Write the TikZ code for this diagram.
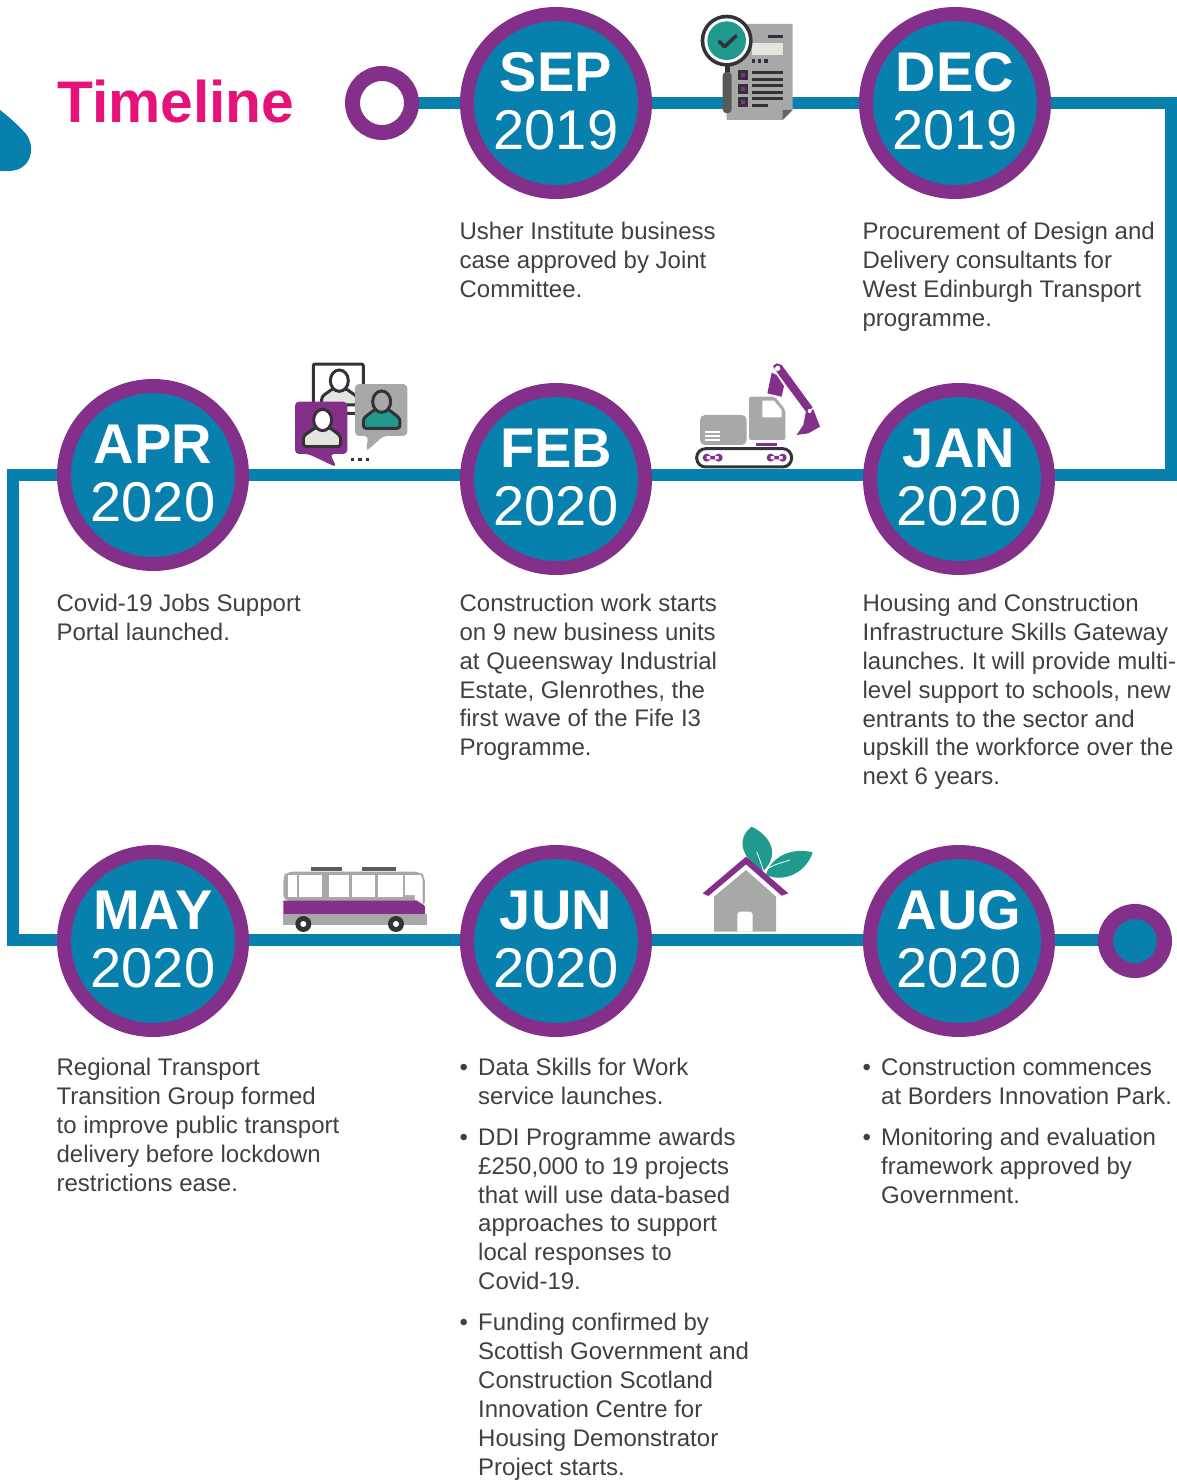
\documentclass[tikz,border=0pt]{standalone}
\usepackage{fontspec}
\setmainfont{Liberation Sans}
\frenchspacing
\usetikzlibrary{backgrounds}
\definecolor{tblue}{HTML}{0780AE}
\definecolor{tpurple}{HTML}{84308A}
\definecolor{tpink}{HTML}{E5127A}
\definecolor{tteal}{HTML}{1F9A8C}
\definecolor{tgray}{HTML}{A9A8A8}
\definecolor{tdark}{HTML}{333236}
\definecolor{tlight}{HTML}{E6E4DF}
\definecolor{ttext}{HTML}{404040}
\tikzset{
  x=1pt,y=-1pt,
  tl/.style={draw=tblue,line width=12.5pt,line join=miter},
  month/.style={circle,draw=tpurple,line width=14pt,fill=tblue,minimum size=178pt,inner sep=0pt,outer sep=0pt,text=white,align=center,font=\fontsize{56}{57.5}\selectfont},
  body/.style={anchor=north west,inner sep=0pt,outer sep=0pt,align=left,text=ttext,font=\fontsize{24}{28.9}\selectfont},
}
\newcommand{\mon}[2]{{\bfseries #1}\\[0pt]#2\rule[-4pt]{0pt}{4pt}}
\newcommand{\bul}{\makebox[18.6pt][l]{•}}
\newcommand{\ind}{\hspace*{18.6pt}}
\begin{document}
\begin{tikzpicture}
\useasboundingbox (0,0) rectangle (1176,1483);

% months
\node[month] (sep) at (556,103) {\mon{SEP}{2019}};
\node[month] (dec) at (955,103) {\mon{DEC}{2019}};
\node[month] (apr) at (153,475) {\mon{APR}{2020}};
\node[month] (feb) at (556,479) {\mon{FEB}{2020}};
\node[month] (jan) at (959,479) {\mon{JAN}{2020}};
\node[month] (may) at (153,941) {\mon{MAY}{2020}};
\node[month] (jun) at (556,941) {\mon{JUN}{2020}};
\node[month] (aug) at (959,941) {\mon{AUG}{2020}};
% end rings
\node[circle,draw=tpurple,line width=15pt,fill=white,minimum size=59pt,inner sep=0pt,outer sep=0pt] (start) at (382,103) {};
\node[circle,draw=tpurple,line width=15pt,fill=tblue,minimum size=59pt,inner sep=0pt,outer sep=0pt] (finish) at (1135,941) {};
% corner points
\coordinate (cA) at (1171,103);
\coordinate (cB) at (1171,475);
\coordinate (cC) at (13,475);
\coordinate (cD) at (13,940);

\begin{scope}[on background layer]
  \fill[white] (0,0) rectangle (1176,1483);
  \draw[tl] (start) -- (sep);
  \draw[tl] (sep) -- (dec);
  \draw[tl] (dec) -- (cA) -- (cB) -- (jan.east |- cB);
  \draw[tl] (jan.west |- cB) -- (feb.east |- cB);
  \draw[tl] (feb.west |- cB) -- (apr.east |- cB);
  \draw[tl] (apr.west |- cC) -- (cC) -- (cD) -- (may.west |- cD);
  \draw[tl] (may.east |- cD) -- (jun.west |- cD);
  \draw[tl] (jun.east |- cD) -- (aug.west |- cD);
  \draw[tl] (aug.east |- cD) -- (finish.west |- cD);
\end{scope}

% title
\node[anchor=base west,inner sep=0pt,text=tpink,font=\fontsize{58.7}{60}\selectfont\bfseries] (title) at (57,122) {Timeline};
% drop
\fill[tblue] (0,110) .. controls (8,116) and (18,125) .. (26,134) .. controls (36,147) and (32,171) .. (8,171) -- (0,171) -- cycle;

% texts
\node[body] (tsep) at (459.6,222) {Usher Institute business\\case approved by Joint\\Committee.};
\node[body] (tdec) at (862.6,222) {Procurement of Design and\\Delivery consultants for\\West Edinburgh Transport\\programme.};
\node[body] (tapr) at (56.6,594) {Covid-19 Jobs Support\\Portal launched.};
\node[body] (tfeb) at (459.6,594) {Construction work starts\\on 9 new business units\\at Queensway Industrial\\Estate, Glenrothes, the\\first wave of the Fife I3\\Programme.};
\node[body] (tjan) at (862.6,594) {Housing and Construction\\Infrastructure Skills Gateway\\launches. It will provide multi-\\level support to schools, new\\entrants to the sector and\\upskill the workforce over the\\next 6 years.};
\node[body] (tmay) at (56.6,1058) {Regional Transport\\Transition Group formed\\to improve public transport\\delivery before lockdown\\restrictions ease.};
\node[body] (tjun) at (459.6,1058) {\bul Data Skills for Work\\\ind service launches.\\[12pt]\bul DDI Programme awards\\\ind £250,000 to 19 projects\\\ind that will use data-based\\\ind approaches to support\\\ind local responses to\\\ind Covid-19.\\[12pt]\bul Funding confirmed by\\\ind Scottish Government and\\\ind Construction Scotland\\\ind Innovation Centre for\\\ind Housing Demonstrator\\\ind Project starts.};
\node[body] (taug) at (862.6,1058) {\bul Construction commences\\\ind at Borders Innovation Park.\\[12pt]\bul Monitoring and evaluation\\\ind framework approved by\\\ind Government.};

% document + magnifier icon
\begin{scope}[shift={(680,0)},x=0.3333pt,y=-0.3333pt]
  \fill[tgray] (140,72) -- (338,72) -- (338,330) -- (308,360) -- (140,360) -- cycle;
  \fill[black!60] (338,330) -- (308,330) -- (308,360) -- cycle;
  \fill[tlight] (215,128) rectangle (308,165);
  \fill[tdark] (263,104) rectangle (308,113);
  \foreach \xx in {220,238,258} \fill[tdark] (\xx-5,178) rectangle (\xx+5,188);
  \foreach \yy in {217,238,256,277,296} \fill[tdark] (215,\yy-5) rectangle (308,\yy+5);
  \fill[tdark] (215,311) rectangle (265,320);
  \foreach \yy in {226,267,307} {
    \fill[tdark] (175,\yy-15) rectangle (205,\yy+15);
    \fill[tpurple] (184,\yy-6) rectangle (196,\yy+6);
  }
  \fill[black!65,rounded corners=4pt] (128,215) -- (155,215) -- (155,340) -- (128,340) -- cycle;
  \fill[tdark] (134,195) rectangle (149,216);
  \fill[tdark] (140,122) circle [radius=78];
  \fill[white] (140,122) circle [radius=67];
  \fill[tteal] (140,122) circle [radius=58];
  \draw[tdark,line width=3.6pt,line cap=round,line join=round] (118,125) -- (134,140) -- (168,108);
\end{scope}

% people icon
\begin{scope}[shift={(280,350)},x=0.3333pt,y=-0.3333pt]
  \draw[tdark,line width=3pt,fill=white,rounded corners=2pt] (100,42) rectangle (250,190);
  \filldraw[draw=tdark,fill=tlight,line width=3pt,rounded corners=3pt] (160,115) -- (125,140) -- (125,165) -- (232,165) -- (232,140) -- (196,115) -- cycle;
  \filldraw[draw=tdark,fill=white,line width=3pt] (178,92) ellipse [x radius=27,y radius=32];
  \fill[tgray,rounded corners=4pt] (225,102) -- (382,102) -- (382,258) -- (310,258) -- (258,305) -- (265,258) -- (225,258) -- cycle;
  \filldraw[draw=tdark,fill=tteal,line width=3pt,rounded corners=3pt] (285,178) -- (250,205) -- (250,235) -- (360,235) -- (360,205) -- (325,178) -- cycle;
  \filldraw[draw=tdark,fill=tgray,line width=3pt] (305,155) ellipse [x radius=27,y radius=32];
  \fill[tpurple,rounded corners=4pt] (45,155) -- (202,155) -- (202,312) -- (150,312) -- (170,352) -- (85,312) -- (45,312) -- cycle;
  \filldraw[draw=tdark,fill=tlight,line width=3pt,rounded corners=3pt] (108,232) -- (70,258) -- (70,290) -- (182,290) -- (182,258) -- (148,232) -- cycle;
  \filldraw[draw=tdark,fill=white,line width=3pt] (128,210) ellipse [x radius=27,y radius=32];
  \foreach \xx in {218,240,262} \fill[tdark] (\xx-5,323) rectangle (\xx+5,333);
\end{scope}

% digger icon
\begin{scope}[shift={(680,350)},x=0.3333pt,y=-0.3333pt]
  \fill[tpurple] (279,48) -- (290,40) -- (305,45) -- (398,172) -- (380,188) -- (300,80) -- cycle;
  \fill[tpurple] (275,68) -- (262,130) -- (305,140) -- (312,108) -- (290,75) -- cycle;
  \fill[tpurple] (378,185) -- (400,178) -- (420,230) -- (385,250) -- (350,255) -- (370,225) -- cycle;
  \fill[white] (293,55) circle [radius=8];
  \fill[white] (389,183) circle [radius=6];
  \fill[tgray,rounded corners=5pt] (60,195) rectangle (200,285);
  \foreach \yy in {245,258,270} \fill[white] (75,\yy-3) rectangle (120,\yy+3);
  \fill[tgray,rounded corners=2pt] (207,140) -- (285,140) -- (316,180) -- (316,270) -- (207,270) -- cycle;
  \fill[white] (247,152) -- (282,152) -- (305,180) -- (305,202) -- (247,202) -- cycle;
  \fill[tpurple] (228,279) rectangle (292,288);
  \draw[tdark,line width=3pt,rounded corners=9pt] (50,296) rectangle (335,351);
  \foreach \xx in {98,290} {
    \fill[tpurple] (\xx-18,323) circle [radius=12] (\xx+18,323) circle [radius=12] (\xx-18,318) rectangle (\xx+18,328);
  }
\end{scope}

% bus icon
\begin{scope}[shift={(270,850)},x=0.3333pt,y=-0.3333pt]
  \fill[tdark!80] (123,50) rectangle (215,62);
  \fill[tdark!80] (275,50) rectangle (378,62);
  \fill[tgray,rounded corners=6pt] (40,152) -- (40,80) -- (50,65) -- (450,65) -- (465,80) -- (465,170) -- cycle;
  \foreach \a/\b in {55/80,88/155,178/238,245/315,325/398} \fill[white] (\a,75) rectangle (\b,140);
  \fill[white] (405,75) -- (452,75) -- (458,90) -- (458,162) -- (435,148) -- (435,135) -- (405,135) -- cycle;
  \fill[tpurple] (40,152) -- (440,152) -- (465,168) -- (465,192) -- (40,192) -- cycle;
  \fill[tgray] (40,192) -- (470,192) -- (470,225) -- (40,225) -- cycle;
  \foreach \xx in {100,378} {
    \fill[tdark] (\xx,222) circle [radius=24];
    \fill[white] (\xx,222) circle [radius=9];
  }
\end{scope}

% house icon
\begin{scope}[shift={(690,815)},x=0.3333pt,y=-0.3333pt]
  \fill[tteal] (215,172) .. controls (150,120) and (140,70) .. (185,35) .. controls (255,70) and (265,130) .. (215,172) -- cycle;
  \fill[tteal] (228,180) .. controls (240,130) and (300,95) .. (368,112) .. controls (350,170) and (285,205) .. (228,180) -- cycle;
  \draw[white,line width=.8pt] (200,110) .. controls (208,130) and (215,150) .. (222,172) .. controls (240,150) and (270,145) .. (300,135);
  \fill[tpurple] (38,235) -- (168,125) -- (295,235) -- (275,242) -- (168,148) -- (55,243) -- cycle;
  \fill[tgray] (72,350) -- (72,245) -- (168,165) -- (258,245) -- (258,350) -- cycle;
  \fill[white] (142,350) -- (142,297) -- (148,290) -- (182,290) -- (188,297) -- (188,350) -- cycle;
\end{scope}
\end{tikzpicture}
\end{document}
